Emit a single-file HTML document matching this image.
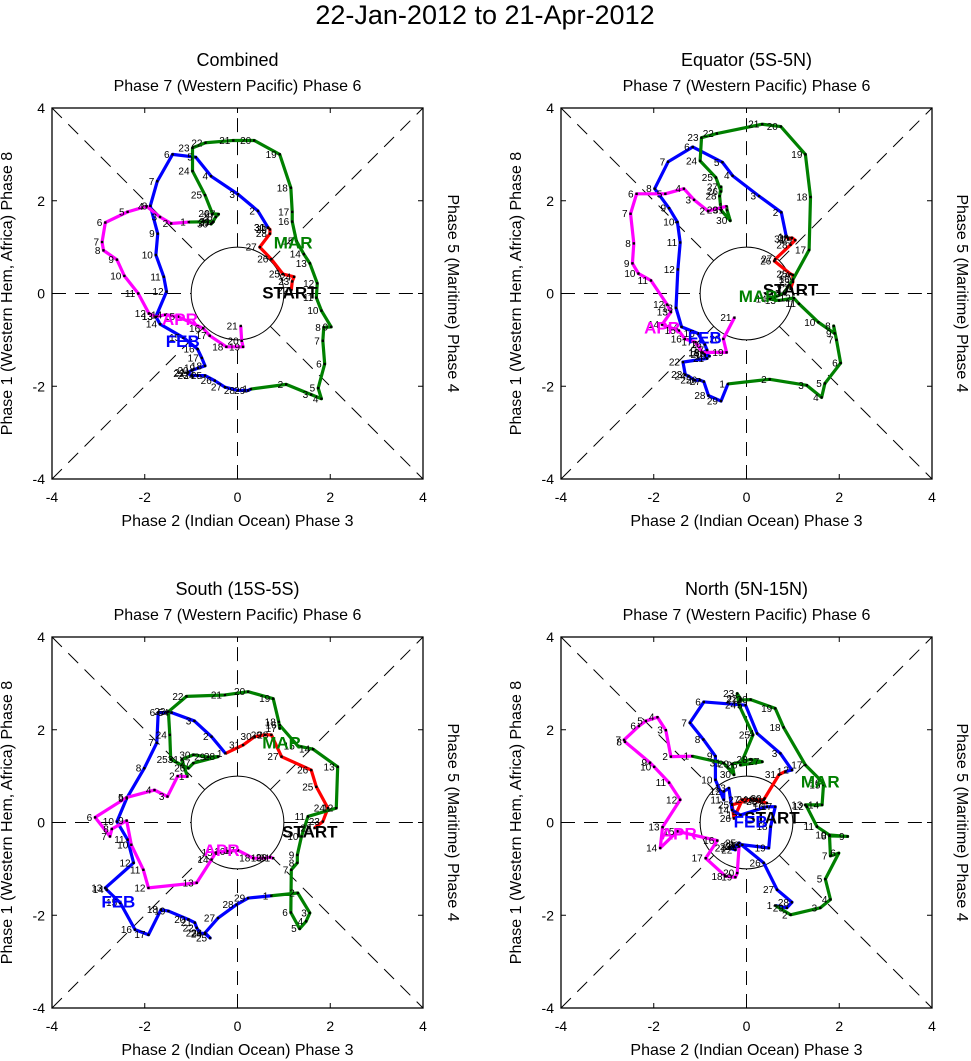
<!DOCTYPE html>
<html><head><meta charset="utf-8">
<style>
html,body{margin:0;padding:0;background:#fff;}
svg{display:block;font-family:"Liberation Sans",sans-serif;}
</style></head>
<body>
<svg id="fig" width="971" height="1061" viewBox="0 0 971 1061" xmlns="http://www.w3.org/2000/svg">
<text x="485" y="24" font-size="27" text-anchor="middle">22-Jan-2012 to 21-Apr-2012</text>
</svg>
<script>
// ---- data (RMM1, RMM2) per panel ----
const panelTitles = ["Combined","Equator (5S-5N)","South (15S-5S)","North (5N-15N)"];
const months = ["JAN","FEB","MAR","APR"];
const monthStartDays = [22,1,1,1];
const tickValues = [-4,-2,0,2,4];

// Combined
const p1Jan = [[1.16,0.07],[1.18,0.26],[1.22,0.36],[0.98,0.42],[0.73,0.74],[0.48,1.0],[0.70,1.29],[0.70,1.38],[0.66,1.42],[0.66,1.42]];
const p1Feb = [[0.66,1.42],[0.44,1.78],[0.01,2.14],[-0.57,2.53],[-0.90,2.94],[-1.40,3.0],[-1.73,2.42],[-1.88,1.89],[-1.72,1.29],[-1.76,0.83],[-1.59,0.36],[-1.53,0.04],[-1.76,-0.50],[-1.67,-0.66],[-1.17,-0.95],[-0.86,-1.2],[-0.77,-1.39],[-0.70,-1.56],[-0.85,-1.61],[-0.99,-1.66],[-1.06,-1.70],[-1.08,-1.72],[-0.99,-1.77],[-0.86,-1.77],[-0.70,-1.77],[-0.49,-1.88],[-0.27,-2.02],[0.01,-2.09],[0.23,-2.09]];
const p1Mar = [[0.29,-2.06],[1.05,-1.96],[1.59,-2.18],[1.81,-2.27],[1.74,-2.04],[1.88,-1.52],[1.84,-1.02],[1.86,-0.73],[2.02,-0.72],[1.81,-0.37],[1.70,-0.09],[1.72,0.22],[1.56,0.65],[1.43,0.85],[1.27,1.13],[1.18,1.55],[1.18,1.76],[1.15,2.28],[0.91,3.0],[0.36,3.30],[-0.09,3.30],[-0.69,3.25],[-0.97,3.14],[-0.97,2.64],[-0.70,2.12],[-0.54,1.72],[-0.41,1.71],[-0.47,1.65],[-0.54,1.53],[-0.57,1.50],[-0.52,1.55]];
const p1Apr = [[-1.05,1.54],[-1.43,1.51],[-1.67,1.65],[-1.96,1.88],[-2.37,1.76],[-2.85,1.53],[-2.92,1.11],[-2.89,0.93],[-2.60,0.73],[-2.44,0.38],[-2.14,0.0],[-1.91,-0.43],[-1.76,-0.50],[-1.56,-0.46],[-1.28,-0.50],[-0.74,-0.75],[-0.60,-0.91],[-0.24,-1.15],[0.12,-1.15],[0.09,-1.02],[0.07,-0.70]];
const p1Labels = [[1.13,0.02],[-1.18,-1.02],[1.2,1.1],[-1.24,-0.55]];

// Equator
const p2Jan = [[0.95,0.1],[1.0,0.25],[1.0,0.4],[0.95,0.42],[0.6,0.7],[0.62,0.74],[0.95,1.05],[1.05,1.15],[0.98,1.2],[0.9,1.18]];
const p2Feb = [[0.86,1.22],[0.75,1.75],[0.27,2.1],[-0.30,2.54],[-0.52,2.83],[-1.16,3.16],[-1.69,2.84],[-1.98,2.26],[-1.67,1.84],[-1.49,1.54],[-1.43,1.1],[-1.48,0.52],[-1.52,-0.31],[-1.40,-0.72],[-1.05,-0.86],[-0.90,-1.1],[-0.85,-1.22],[-0.95,-1.28],[-0.80,-1.35],[-0.90,-1.32],[-0.85,-1.40],[-1.37,-1.48],[-1.32,-1.75],[-1.25,-1.78],[-1.12,-1.87],[-1.0,-1.87],[-0.92,-1.90],[-0.82,-2.2],[-0.55,-2.32]];
const p2Mar = [[-0.40,-1.95],[0.50,-1.85],[1.30,-1.98],[1.62,-2.24],[1.69,-1.94],[2.03,-1.50],[1.94,-1.0],[1.88,-0.70],[1.90,-0.86],[1.55,-0.62],[1.13,-0.22],[1.02,-0.1],[0.7,-0.15],[0.5,-0.12],[0.8,0.0],[1.0,0.3],[1.35,0.94],[1.38,2.08],[1.27,3.0],[0.74,3.6],[0.34,3.65],[-0.64,3.45],[-0.97,3.36],[-1.0,2.86],[-0.66,2.5],[-0.55,2.2],[-0.55,2.3],[-0.58,2.1],[-0.55,1.8],[-0.35,1.57],[-0.42,1.8]];
const p2Apr = [[-0.43,1.88],[-0.83,1.78],[-1.13,2.02],[-1.35,2.26],[-1.75,2.15],[-2.37,2.15],[-2.50,1.72],[-2.43,1.08],[-2.46,0.65],[-2.33,0.43],[-2.06,0.28],[-1.71,-0.24],[-1.63,-0.40],[-1.82,-0.67],[-1.46,-0.80],[-1.33,-0.98],[-1.10,-1.05],[-0.95,-1.27],[-0.43,-1.27],[-0.50,-0.98],[-0.26,-0.52]];
const p2Labels = [[0.95,0.09],[-0.9,-0.95],[0.25,-0.05],[-1.82,-0.73]];

// South
const p3Jan = [[1.66,-0.12],[1.84,0.02],[1.95,0.31],[1.7,0.77],[1.59,1.13],[0.95,1.42],[0.73,1.89],[0.59,1.89],[0.37,1.85],[0.12,1.67]];
const p3Feb = [[-0.26,1.49],[-0.56,1.85],[-0.93,2.19],[-1.42,2.37],[-1.53,2.37],[-1.71,2.37],[-1.74,1.72],[-2.01,1.17],[-2.39,0.52],[-2.60,0.02],[-2.37,-0.37],[-2.24,-0.87],[-2.85,-1.41],[-2.82,-1.45],[-2.53,-1.73],[-2.21,-2.31],[-1.92,-2.42],[-1.65,-1.88],[-1.49,-1.91],[-1.06,-2.09],[-0.92,-2.16],[-0.88,-2.27],[-0.81,-2.38],[-0.70,-2.40],[-0.59,-2.49],[-0.70,-2.38],[-0.42,-2.06],[-0.02,-1.77],[0.23,-1.63]];
const p3Mar = [[0.73,-1.58],[1.30,-1.52],[1.56,-1.95],[1.48,-2.13],[1.34,-2.29],[1.15,-1.94],[1.16,-1.02],[1.29,-0.87],[1.29,-0.70],[1.38,-0.30],[1.52,0.13],[2.13,0.31],[2.16,1.2],[1.63,1.58],[1.30,1.65],[0.91,2.10],[0.91,2.03],[0.89,2.17],[0.77,2.67],[0.23,2.82],[-0.27,2.75],[-1.10,2.72],[-1.49,2.39],[-1.46,1.89],[-1.44,1.36],[-1.06,1.17],[-0.95,1.28],[-0.42,1.42],[-0.63,1.41],[-0.95,1.46],[-1.20,1.36]];
const p3Apr = [[-1.08,0.99],[-1.29,1.00],[-1.51,0.56],[-1.79,0.70],[-2.39,0.54],[-3.07,0.11],[-2.75,-0.30],[-2.71,-0.14],[-2.39,0.04],[-2.29,-0.48],[-2.03,-1.02],[-1.92,-1.41],[-0.88,-1.30],[-0.56,-0.80],[-0.47,-0.65],[-0.20,-0.62],[0.01,-0.60],[0.34,-0.77],[0.59,-0.77],[0.70,-0.75],[0.77,-0.77]];
const p3Labels = [[1.56,-0.19],[-2.57,-1.70],[0.95,1.72],[-0.34,-0.59]];

// North
const p4Jan = [[0.44,0.42],[0.30,0.45],[0.09,0.50],[-0.31,0.38],[-0.27,0.09],[-0.09,0.49],[0.23,0.49],[0.37,0.49],[0.39,0.52],[0.70,1.03]];
const p4Feb = [[0.84,1.10],[0.98,1.13],[0.73,1.49],[0.23,1.92],[-0.02,2.53],[-0.92,2.60],[-1.22,2.15],[-0.93,1.79],[-0.67,1.43],[-0.67,0.92],[-0.49,0.49],[-0.49,0.67],[-0.38,0.74],[-0.31,0.27],[-0.13,0.16],[0.44,0.34],[0.62,0.34],[0.52,-0.09],[0.48,-0.55],[-0.09,-0.48],[-0.38,-0.55],[-0.24,-0.59],[-0.27,-0.52],[-0.2,-0.48],[-0.16,-0.44],[0.37,-0.87],[0.66,-1.45],[0.98,-1.72],[0.87,-1.84]];
const p4Mar = [[0.62,-1.79],[0.95,-1.99],[1.59,-1.84],[1.81,-1.66],[1.70,-1.22],[1.99,-0.66],[1.81,-0.72],[1.79,-0.29],[2.18,-0.30],[1.79,-0.27],[1.52,-0.09],[1.30,0.34],[1.27,0.38],[1.63,0.38],[1.66,0.81],[1.66,0.85],[1.27,1.24],[0.80,2.05],[0.62,2.46],[0.09,2.65],[-0.13,2.64],[-0.13,2.67],[-0.20,2.78],[-0.16,2.53],[0.14,1.89],[-0.13,1.24],[0.34,1.31],[0.09,1.36],[-0.31,1.26],[-0.27,1.03],[-0.49,1.28]];
const p4Apr = [[-1.17,1.43],[-1.63,1.42],[-1.74,1.99],[-1.92,2.27],[-2.17,2.19],[-2.32,2.08],[-2.64,1.78],[-2.62,1.74],[-2.08,1.29],[-1.99,1.20],[-1.67,0.86],[-1.43,0.49],[-1.81,-0.10],[-1.86,-0.55],[-1.49,-0.19],[-0.63,-0.39],[-0.88,-0.77],[-0.45,-1.16],[-0.24,-1.18],[-0.20,-1.09],[-0.16,-0.52]];
const p4Labels = [[0.55,0.11],[0.09,0.02],[1.59,0.88],[-1.46,-0.24]];

const panelSeries = [[p1Jan,p1Feb,p1Mar,p1Apr],[p2Jan,p2Feb,p2Mar,p2Apr],[p3Jan,p3Feb,p3Mar,p3Apr],[p4Jan,p4Feb,p4Mar,p4Apr]];
const panelMonthLabels = [p1Labels,p2Labels,p3Labels,p4Labels];
const labelTexts = ["START","FEB","MAR","APR"];

// ---- rendering ----
const NS = "http://www.w3.org/2000/svg";
const svg = document.getElementById("fig");
const colors = ["#ff0000","#0000ff","#008000","#ff00ff"];
const labelColors = ["#000000","#0000ff","#008000","#ff00ff"];
const boxes = [[52,108],[561,108],[52,637],[561,637]];
const SIZE = 371;
function mk(tag, attrs, parent){const e=document.createElementNS(NS,tag);for(const k in attrs)e.setAttribute(k,attrs[k]);(parent||svg).appendChild(e);return e;}

panelTitles.forEach((title,pi)=>{
  const [bx,by]=boxes[pi];
  const sc=SIZE/8;
  const X=v=>bx+SIZE/2+v*sc, Y=v=>by+SIZE/2-v*sc;
  const g=mk("g",{});
  
  
  const t=mk("text",{x:X(0),y:by-42,"font-size":18,"text-anchor":"middle"},g);t.textContent=title;
  
  
  const tt=mk("text",{x:X(0),y:by-17,"font-size":16,"text-anchor":"middle"},g);tt.textContent="Phase 7 (Western Pacific) Phase 6";
  
  
  const bt=mk("text",{x:X(0),y:by+SIZE+47,"font-size":16,"text-anchor":"middle"},g);bt.textContent="Phase 2 (Indian Ocean) Phase 3";
  
  
  const lt=mk("text",{x:0,y:0,"font-size":16,"text-anchor":"middle",transform:`translate(${bx-40},${Y(0)}) rotate(-90)`},g);lt.textContent="Phase 1 (Western Hem, Africa) Phase 8";
  
  
  const rt=mk("text",{x:0,y:0,"font-size":16,"text-anchor":"middle",transform:`translate(${bx+SIZE+25},${Y(0)}) rotate(90)`},g);rt.textContent="Phase 5 (Maritime) Phase 4";
  
  
  const d=1/Math.SQRT2;
  const segs=[[[-4,0],[-1,0]],[[1,0],[4,0]],[[0,-4],[0,-1]],[[0,1],[0,4]],[[-4,-4],[-d,-d]],[[d,d],[4,4]],[[-4,4],[-d,d]],[[d,-d],[4,-4]]];
  segs.forEach(s=>{const l=mk("line",{x1:X(s[0][0]),y1:Y(s[0][1]),x2:X(s[1][0]),y2:Y(s[1][1]),stroke:"#000","stroke-width":1,"stroke-dasharray":"14 9"},g);
    
    });
  const c=mk("circle",{cx:X(0),cy:Y(0),r:sc,fill:"none",stroke:"#000","stroke-width":1},g);
  
  
  const box=mk("rect",{x:bx,y:by,width:SIZE,height:SIZE,fill:"none",stroke:"#000","stroke-width":1.3},g);
  
  
  tickValues.forEach(v=>{
    const xl=mk("text",{x:X(v),y:by+SIZE+23,"font-size":14,"text-anchor":"middle"},g);xl.textContent=v;
    
    
    const yl=mk("text",{x:bx-7,y:Y(v)+5,"font-size":14,"text-anchor":"end"},g);yl.textContent=v;
    
    
    mk("line",{x1:X(v),y1:by+SIZE,x2:X(v),y2:by+SIZE-5,stroke:"#000"},g);
    mk("line",{x1:X(v),y1:by,x2:X(v),y2:by+5,stroke:"#000"},g);
    mk("line",{x1:bx,y1:Y(v),x2:bx+5,y2:Y(v),stroke:"#000"},g);
    mk("line",{x1:bx+SIZE,y1:Y(v),x2:bx+SIZE-5,y2:Y(v),stroke:"#000"},g);
  });
  const series=panelSeries[pi];
  series.forEach((pts,si)=>{
    let all=pts.slice();
    if(si<3) all=all.concat([series[si+1][0]]);
    const pl=mk("polyline",{points:all.map(p=>X(p[0])+","+Y(p[1])).join(" "),fill:"none",stroke:colors[si],"stroke-width":3.2,"stroke-linejoin":"round"},g);
    
    
  });
  series.forEach((pts,si)=>{
    pts.forEach((p,i)=>{
      const dot=mk("rect",{x:X(p[0])-1.2,y:Y(p[1])-1.2,width:2.4,height:2.4,fill:"#000"},g);
      
      
      const dl=mk("text",{x:X(p[0])-3,y:Y(p[1])+3.5,"font-size":10,"text-anchor":"end"},g);
      dl.textContent=monthStartDays[si]+i;
      
      
    });
  });
  panelMonthLabels[pi].forEach((p,li)=>{
    const ml=mk("text",{x:X(p[0]),y:Y(p[1])+6,"font-size":17,"font-weight":"bold","text-anchor":"middle",fill:labelColors[li]},g);
    ml.textContent=labelTexts[li];
    
    
  });
});
</script>
</body></html>
